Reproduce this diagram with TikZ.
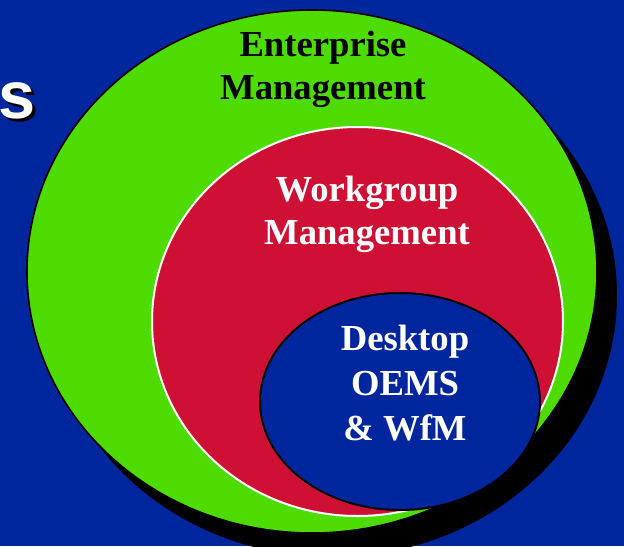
\documentclass[tikz,border=0pt]{standalone}
\usepackage{fontspec}
\setmainfont{Liberation Serif}
\newfontfamily\arialfont{Liberation Sans}
\definecolor{bgblue}{RGB}{0,38,158}
\definecolor{entgreen}{RGB}{78,220,0}
\definecolor{wgred}{RGB}{206,16,52}
\begin{document}
\begin{tikzpicture}[x=0.75pt,y=-0.75pt,
  lbl/.style={font=\fontsize{27.5}{33}\selectfont\bfseries, inner sep=0pt, anchor=base},
  dark/.style={lbl, text=black},
  light/.style={lbl, text=white},
  bigs/.style={font=\arialfont\fontsize{50}{60}\selectfont\bfseries, inner sep=0pt, anchor=base east}]
\useasboundingbox (0,0) rectangle (624,546);
\clip (0,0) rectangle (624,546);
\fill[bgblue] (0,0) rectangle (624,546);
% cut-off title letter
\node[bigs, text=black] (sshadow) at (39,121) {s};
\node[bigs, text=white] (s) at (36,118) {s};
% enterprise ellipse with shadow
\fill[black] (332,295.5) ellipse [x radius=285, y radius=261.5];
\filldraw[fill=entgreen, draw=black, line width=1.2pt] (312,271.5) ellipse [x radius=285, y radius=261.5];
% workgroup ellipse
\filldraw[fill=wgred, draw=white, line width=1.5pt] (357.5,321.5) ellipse [x radius=205.5, y radius=194.5];
% desktop ellipse
\filldraw[fill=bgblue, draw=black, line width=1.5pt] (400,401.5) ellipse [x radius=140, y radius=108.5];
% labels
\node[dark] (ent1) at (323,56) {Enterprise};
\node[dark] (ent2) at (323,99) {Management};
\node[light] (wg1) at (367,201) {Workgroup};
\node[light] (wg2) at (367,244) {Management};
\node[light] (dt1) at (405,350) {Desktop};
\node[light] (dt2) at (405,395) {OEMS};
\node[light] (dt3) at (405,440) {\& WfM};
\end{tikzpicture}
\end{document}
